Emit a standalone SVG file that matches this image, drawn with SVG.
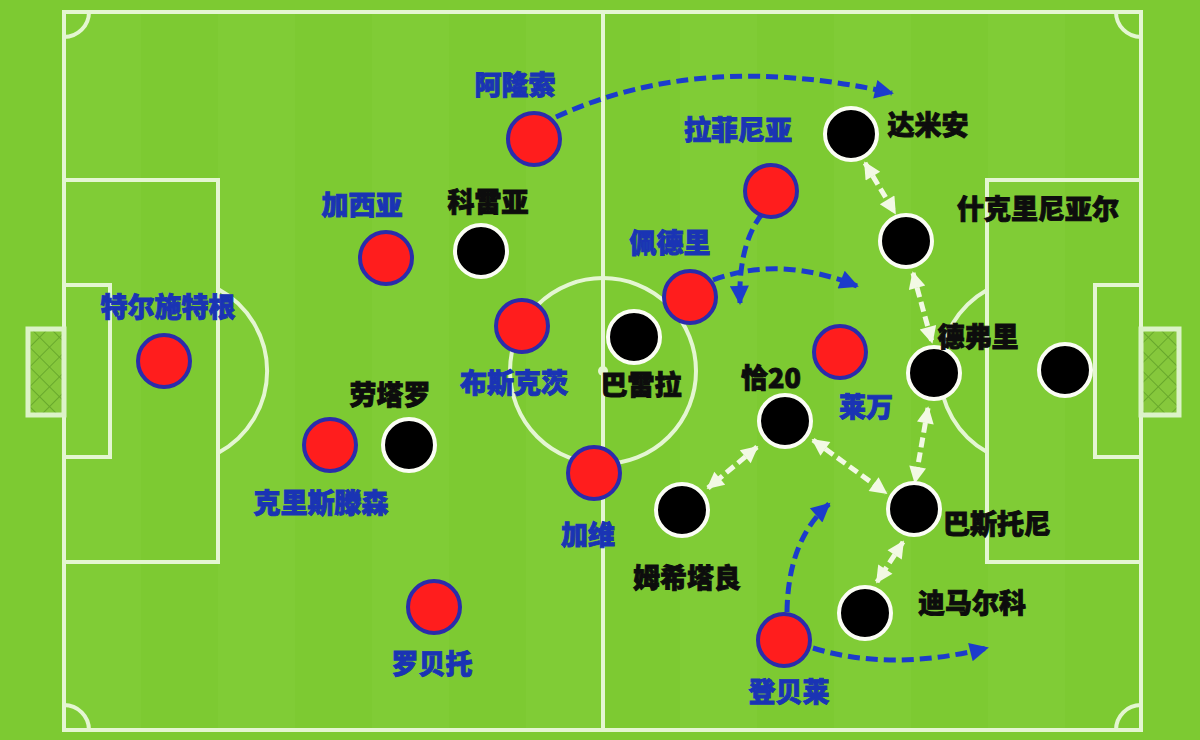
<svg xmlns="http://www.w3.org/2000/svg" width="1200" height="740" viewBox="0 0 1200 740">
<defs>
<style>
.line{fill:none;stroke:#e4f6d2;stroke-width:4}
.red{fill:#ff1d1d;stroke:#2a2cab;stroke-width:4}
.blk{fill:#000;stroke:#fbfdf4;stroke-width:4}
.tb{font-family:"Noto Sans CJK SC",sans-serif;font-weight:900;font-size:27px;fill:#1a34b4;stroke:#1a34b4;stroke-width:0.9;text-anchor:middle}
.tk{font-family:"Noto Sans CJK SC",sans-serif;font-weight:900;font-size:27px;fill:#0d0d0d;stroke:#0d0d0d;stroke-width:0.9;text-anchor:middle}
.ba{fill:none;stroke:#1c3ccc;stroke-width:5;stroke-dasharray:12 6;marker-end:url(#ab)}
.wa{fill:none;stroke:#f2f9e4;stroke-width:5;stroke-dasharray:10 5;marker-start:url(#aw);marker-end:url(#aw)}
</style>
<marker id="ab" viewBox="0 0 10 10" refX="9" refY="5" markerWidth="22" markerHeight="19" markerUnits="userSpaceOnUse" orient="auto">
<path d="M0,0 L10,5 L0,10 z" fill="#1c3ccc"/>
</marker>
<marker id="aw" viewBox="0 0 10 10" refX="9" refY="5" markerWidth="20" markerHeight="17" markerUnits="userSpaceOnUse" orient="auto-start-reverse">
<path d="M0,0 L10,5 L0,10 z" fill="#f2f9e4"/>
</marker>
<pattern id="net" width="14" height="14" patternUnits="userSpaceOnUse" patternTransform="rotate(45)">
<rect width="14" height="14" fill="#86c83c"/>
<path d="M0,0 H14 M0,0 V14" stroke="#68a82c" stroke-width="2"/>
</pattern>
</defs>
<rect width="1200" height="740" fill="#7dca32"/>
<g id="stripes" fill="#80cc36">
<rect x="64" y="12" width="77" height="718"/>
<rect x="218" y="12" width="77" height="718"/>
<rect x="372" y="12" width="77" height="718"/>
<rect x="526" y="12" width="77" height="718"/>
<rect x="680" y="12" width="77" height="718"/>
<rect x="834" y="12" width="77" height="718"/>
<rect x="988" y="12" width="77" height="718"/>
</g>
<g id="pitch">
<rect class="line" x="64" y="12" width="1077" height="718"/>
<line class="line" x1="603" y1="12" x2="603" y2="730"/>
<circle class="line" cx="603" cy="371" r="93" stroke="#cdeeb8"/>
<circle cx="603" cy="371" r="5" fill="#e4f6d2"/>
<rect class="line" x="64" y="180" width="154" height="382"/>
<rect class="line" x="64" y="285" width="46" height="172"/>
<path class="line" d="M218,289 A93,93 0 0 1 218,453"/>
<rect class="line" x="987" y="180" width="154" height="382"/>
<rect class="line" x="1095" y="285" width="46" height="172"/>
<path class="line" d="M987,290 A93,93 0 0 0 987,452"/>
<path class="line" d="M64,37 A25,25 0 0 0 89,12"/>
<path class="line" d="M1116,12 A25,25 0 0 0 1141,37"/>
<path class="line" d="M64,705 A25,25 0 0 1 89,730"/>
<path class="line" d="M1116,730 A25,25 0 0 1 1141,705"/>
<rect x="28" y="329" width="36" height="86" fill="url(#net)" stroke="#dcf3c8" stroke-width="5"/>
<rect x="1141" y="329" width="38" height="86" fill="url(#net)" stroke="#dcf3c8" stroke-width="5"/>
</g>
<g id="connectors">
<path class="ba" d="M556,117 Q700,50 892,93"/>
<path class="ba" d="M762,214 Q738,245 740,303"/>
<path class="ba" d="M713,280 Q780,255 857,286"/>
<path class="ba" d="M787,612 Q788,540 829,504"/>
<path class="ba" d="M813,648 Q890,672 987,648"/>
<path class="wa" d="M865,163 L895,213"/>
<path class="wa" d="M913,273 L932,342"/>
<path class="wa" d="M928,408 L915,482"/>
<path class="wa" d="M813,440 L886,493"/>
<path class="wa" d="M757,447 L708,488"/>
<path class="wa" d="M903,542 L877,582"/>
</g>
<g id="alonso"><circle class="red" cx="534" cy="139" r="26"/><text class="tb" x="515" y="95">阿隆索</text></g>
<g id="garcia"><circle class="red" cx="386" cy="258" r="26"/><text class="tb" x="362" y="215">加西亚</text></g>
<g id="terstegen"><circle class="red" cx="164" cy="361" r="26"/><text class="tb" x="168" y="317">特尔施特根</text></g>
<g id="busquets"><circle class="red" cx="522" cy="326" r="26"/><text class="tb" x="514" y="393">布斯克茨</text></g>
<g id="christensen"><circle class="red" cx="330" cy="445" r="26"/><text class="tb" x="321" y="513">克里斯滕森</text></g>
<g id="gavi"><circle class="red" cx="594" cy="473" r="26"/><text class="tb" x="588" y="545">加维</text></g>
<g id="roberto"><circle class="red" cx="434" cy="607" r="26"/><text class="tb" x="432" y="674">罗贝托</text></g>
<g id="raphinha"><circle class="red" cx="771" cy="191" r="26"/><text class="tb" x="738" y="140">拉菲尼亚</text></g>
<g id="pedri"><circle class="red" cx="690" cy="297" r="26"/><text class="tb" x="670" y="253">佩德里</text></g>
<g id="lewandowski"><circle class="red" cx="840" cy="352" r="26"/><text class="tb" x="866" y="417">莱万</text></g>
<g id="dembele"><circle class="red" cx="784" cy="640" r="26"/><text class="tb" x="789" y="702">登贝莱</text></g>
<g id="damian"><circle class="blk" cx="851" cy="134" r="26"/><text class="tk" x="928" y="135">达米安</text></g>
<g id="correa"><circle class="blk" cx="481" cy="251" r="26"/><text class="tk" x="488" y="212">科雷亚</text></g>
<g id="skriniar"><circle class="blk" cx="906" cy="241" r="26"/><text class="tk" x="1038" y="219">什克里尼亚尔</text></g>
<g id="barella"><circle class="blk" cx="634" cy="337" r="26"/><text class="tk" x="641" y="395">巴雷拉</text></g>
<g id="lautaro"><circle class="blk" cx="409" cy="445" r="26"/><text class="tk" x="390" y="405">劳塔罗</text></g>
<g id="devrij"><circle class="blk" cx="934" cy="373" r="26"/><text class="tk" x="978" y="347">德弗里</text></g>
<g id="calhanoglu"><circle class="blk" cx="785" cy="421" r="26"/><text class="tk" x="771" y="388">恰20</text></g>
<g id="bastoni"><circle class="blk" cx="914" cy="509" r="26"/><text class="tk" x="997" y="534">巴斯托尼</text></g>
<g id="mkhitaryan"><circle class="blk" cx="682" cy="510" r="26"/><text class="tk" x="687" y="588">姆希塔良</text></g>
<g id="dimarco"><circle class="blk" cx="865" cy="613" r="26"/><text class="tk" x="972" y="613">迪马尔科</text></g>
<g id="forward"><circle class="blk" cx="1065" cy="370" r="26"/></g>
</svg>
